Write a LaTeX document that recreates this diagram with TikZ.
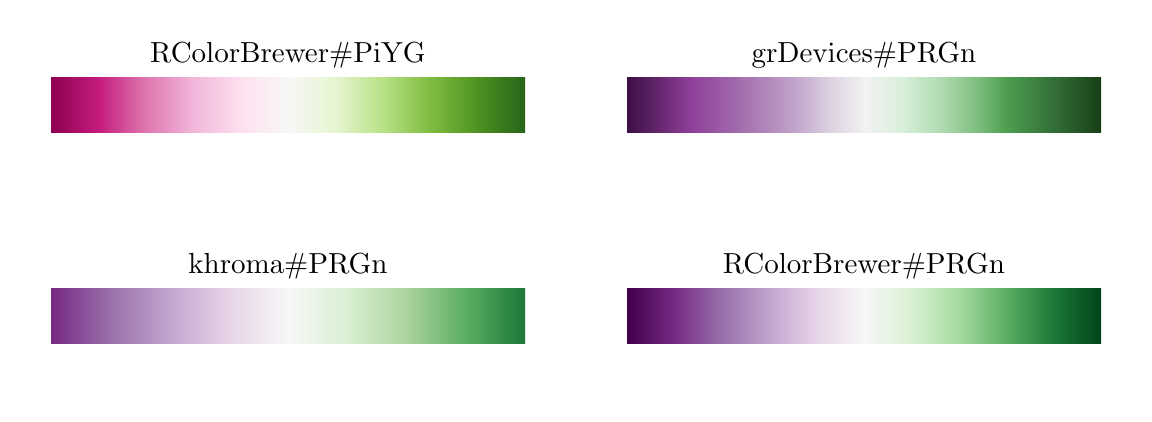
\documentclass[tikz,border=0pt]{standalone}
\usepackage{xcolor}
% RColorBrewer PiYG
\definecolor{pa}{HTML}{8E0152}\definecolor{pb}{HTML}{C51B7D}\definecolor{pc}{HTML}{DE77AE}
\definecolor{pd}{HTML}{F1B6DA}\definecolor{pe}{HTML}{FDE0EF}\definecolor{pf}{HTML}{F7F7F7}
\definecolor{pg}{HTML}{E6F5D0}\definecolor{ph}{HTML}{B8E186}\definecolor{pi}{HTML}{7FBC41}
\definecolor{pj}{HTML}{4D9221}\definecolor{pk}{HTML}{276419}
% RColorBrewer PRGn
\definecolor{ba}{HTML}{40004B}\definecolor{bb}{HTML}{762A83}\definecolor{bc}{HTML}{9970AB}
\definecolor{bd}{HTML}{C2A5CF}\definecolor{be}{HTML}{E7D4E8}\definecolor{bf}{HTML}{F7F7F7}
\definecolor{bg}{HTML}{D9F0D3}\definecolor{bh}{HTML}{A6DBA0}\definecolor{bi}{HTML}{5AAE61}
\definecolor{bj}{HTML}{1B7837}\definecolor{bk}{HTML}{00441B}
% khroma PRGn (Tol)
\definecolor{ka}{HTML}{762A83}\definecolor{kb}{HTML}{9970AB}\definecolor{kc}{HTML}{C2A5CF}
\definecolor{kd}{HTML}{E7D4E8}\definecolor{ke}{HTML}{F7F7F7}\definecolor{kf}{HTML}{D9F0D3}
\definecolor{kg}{HTML}{ACD39E}\definecolor{kh}{HTML}{5AAE61}\definecolor{ki}{HTML}{1B7837}
% grDevices PRGn (estimated)
\definecolor{ga}{HTML}{3D0F45}\definecolor{gb}{HTML}{8E3F98}\definecolor{gc}{HTML}{A673B0}
\definecolor{gd}{HTML}{C0A2C9}\definecolor{ge}{HTML}{DDD2E1}\definecolor{gf}{HTML}{F2F2F2}
\definecolor{gg}{HTML}{D9EFDB}\definecolor{gh}{HTML}{ABD8AC}\definecolor{gi}{HTML}{7DBD7D}
\definecolor{gj}{HTML}{4E9E4F}\definecolor{gk}{HTML}{336E38}\definecolor{gl}{HTML}{173F17}

\pgfdeclarehorizontalshading{shPiYG}{100bp}{color(0bp)=(pa); color(25bp)=(pa); color(30bp)=(pb);
 color(35bp)=(pc); color(40bp)=(pd); color(45bp)=(pe); color(50bp)=(pf); color(55bp)=(pg);
 color(60bp)=(ph); color(65bp)=(pi); color(70bp)=(pj); color(75bp)=(pk); color(100bp)=(pk)}
\pgfdeclarehorizontalshading{shPRGn}{100bp}{color(0bp)=(ba); color(25bp)=(ba); color(30bp)=(bb);
 color(35bp)=(bc); color(40bp)=(bd); color(45bp)=(be); color(50bp)=(bf); color(55bp)=(bg);
 color(60bp)=(bh); color(65bp)=(bi); color(70bp)=(bj); color(75bp)=(bk); color(100bp)=(bk)}
\pgfdeclarehorizontalshading{shKhroma}{100bp}{color(0bp)=(ka); color(25bp)=(ka); color(31.25bp)=(kb);
 color(37.5bp)=(kc); color(43.75bp)=(kd); color(50bp)=(ke); color(56.25bp)=(kf);
 color(62.5bp)=(kg); color(68.75bp)=(kh); color(75bp)=(ki); color(100bp)=(ki)}
\pgfdeclarehorizontalshading{shGrDev}{100bp}{color(0bp)=(ga); color(25bp)=(ga); color(31.7bp)=(gb);
 color(37.5bp)=(gc); color(42.5bp)=(gd); color(46.5bp)=(ge); color(50bp)=(gf); color(54bp)=(gg);
 color(58.5bp)=(gh); color(62bp)=(gi); color(65bp)=(gj); color(70bp)=(gk); color(75bp)=(gl); color(100bp)=(gl)}

\font\titlefont=cmr10 at 14.5pt

\begin{document}
\begin{tikzpicture}[x=0.5pt,y=-0.5pt,
  title/.style={anchor=base,inner sep=0pt,font=\titlefont}]
\useasboundingbox (0,0) rectangle (1152,422);
\node[title] (t1) at (288,62.3) {RColorBrewer\#PiYG};
\node[title] (t2) at (864,62.3) {grDevices\#PRGn};
\node[title] (t3) at (288,273.3) {khroma\#PRGn};
\node[title] (t4) at (864,273.3) {RColorBrewer\#PRGn};
\path[shading=shPiYG] (51,78) rectangle (525,133);
\path[shading=shGrDev] (627,78) rectangle (1101,133);
\path[shading=shKhroma] (51,289) rectangle (525,344);
\path[shading=shPRGn] (627,289) rectangle (1101,344);
\end{tikzpicture}
\end{document}
